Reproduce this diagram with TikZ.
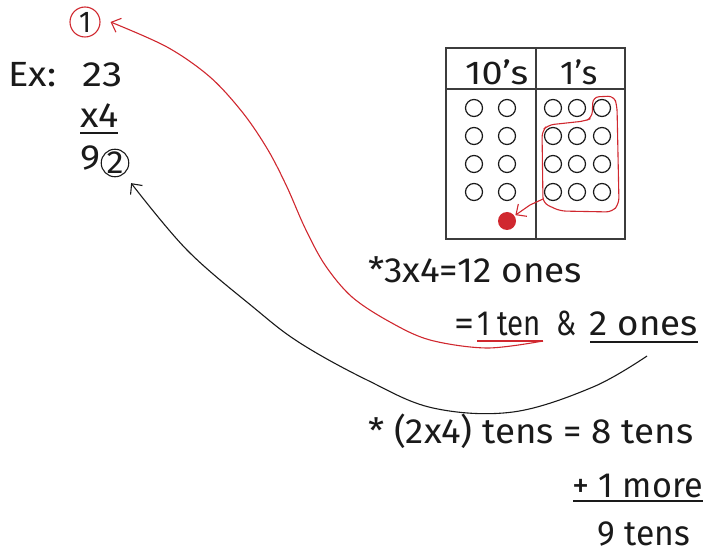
\documentclass[tikz,border=0pt]{standalone}
\usepackage{fontspec}
\setmainfont{Fira Sans}
\usetikzlibrary{arrows.meta}
\definecolor{inkred}{HTML}{D0282F}
\definecolor{ink}{HTML}{1A1A1A}
\newcommand\fitto[2]{\resizebox{#1}{\height}{#2}}
\begin{document}
\begin{tikzpicture}[x=1pt,y=-1pt,
  txt/.style={font=\fontsize{35}{40}\selectfont, inner sep=0pt, text=ink},
  hdr/.style={font=\fontsize{33}{38}\selectfont, inner sep=0pt, text=ink},
  bead/.style={circle, draw=ink, line width=1.2pt, minimum size=17pt, inner sep=0pt},
  redline/.style={draw=inkred, line width=1.1pt},
  blkline/.style={draw=ink, line width=1.1pt},
  uline/.style={draw=ink, line width=2pt},
  tbl/.style={draw=ink!85, line width=1.6pt},
  tip/.style={-{Straight Barb[length=8pt,width=15pt,line width=1.1pt]}}
]
\useasboundingbox (0,0) rectangle (704,553);

% ---- left column: worked example
\node[circle, draw=inkred, line width=1.1pt, minimum size=30pt, inner sep=0pt,
      font=\fontsize{30}{34}\selectfont, text=ink] (c1) at (85,22) {\fitto{12pt}{1}};
\node[txt, anchor=base west] (ex) at (8,87) {\fitto{48pt}{Ex:}};
\node[txt, anchor=base west] (n23) at (82,87) {\fitto{40pt}{23}};
\node[txt, anchor=base west] (x4) at (80,128) {\fitto{38pt}{x4}};
\draw[uline] (x4.base west) ++(0,5) coordinate (x4a) -- ++(38,0) coordinate (x4b);
\node[txt, anchor=base west] (n9) at (80,170) {\fitto{20pt}{9}};
\node[circle, draw=ink, line width=1.1pt, minimum size=26pt, inner sep=0pt,
      font=\fontsize{32}{36}\selectfont, text=ink] (c2) at (115,163) {\fitto{17pt}{2}};

% ---- place value table
\draw[tbl] (446,48) rectangle (625,239);
\draw[tbl] (446,89) -- (625,89);
\draw[tbl] (536,48) -- (536,239);
\node[hdr, anchor=base west] (tens) at (465,85) {\fitto{63pt}{10's}};
\node[hdr, anchor=base west] (ones) at (560,85) {\fitto{37pt}{1's}};

% tens beads
\foreach \r/\y in {1/108,2/136,3/164,4/192}{
  \node[bead] (t\r a) at (474,\y) {};
  \node[bead] (t\r b) at (507,\y) {};
}
% ones beads
\foreach \r/\y in {1/108,2/136,3/164,4/192}{
  \node[bead] (o\r a) at (553,\y) {};
  \node[bead] (o\r b) at (577,\y) {};
  \node[bead] (o\r c) at (602,\y) {};
}
% red dot (new ten)
\node[circle, fill=inkred, minimum size=18pt, inner sep=0pt] (dot) at (507,221) {};

% loop around ten ones
\draw[redline, rounded corners=6pt] (592,118) -- (593,97) -- (614,96) -- (617,106)
   -- (619,204) -- (612,212) -- (560,211) -- (543,203) -- (542,131) -- (548,125)
   -- (585,121) -- cycle;
\coordinate (loopout) at (543,199);
\draw[redline, tip, shorten >=1pt] (loopout) -- (530,205) -- (dot);

% ---- right text
\node[txt, anchor=base west] (l1) at (368,283) {\fitto{214pt}{*3x4=12 ones}};
\node[txt, anchor=base east] (eq) at (475,335) {\fitto{20pt}{=}};
\node[txt, anchor=base west] (oneten) at (477,335) {\fitto{64pt}{1 ten}};
\node[txt, anchor=base] (amp) at (566,335) {\fitto{20pt}{\&}};
\node[txt, anchor=base east] (twoones) at (698,335) {\fitto{108pt}{2 ones}};
\draw[draw=inkred, line width=2pt] (477,341) -- (543,341) coordinate (redstart);
\draw[uline] (590,342) -- (698,342);

\node[txt, anchor=base west] (l3) at (368,443) {\fitto{325pt}{* (2x4) tens = 8 tens}};
\node[txt, anchor=base east] (l4) at (703,497) {\fitto{130pt}{+ 1 more}};
\draw[uline] (573,501) -- (703,501);
\node[txt, anchor=base east] (l5) at (690,545) {\fitto{92pt}{9 tens}};

% ---- connectors
\coordinate (redend) at ([xshift=10pt]c1.east);
\draw[redline, tip] plot[smooth, tension=0.55] coordinates {(redstart) (487,348) (430,340)
   (390,322) (352,297) (325,265) (305,228) (287,187) (268,150) (243,113) (210,77)
   (167,47) (redend)};
\coordinate (blkstart) at (647,356);
\coordinate (blkend) at ([xshift=6pt,yshift=-10pt]c2.south east);
\draw[blkline, tip] plot[smooth, tension=0.6] coordinates {(blkstart) (593,387)
   (513,412) (433,408) (367,380) (300,343) (253,307) (187,250) (blkend)};
\end{tikzpicture}
\end{document}
